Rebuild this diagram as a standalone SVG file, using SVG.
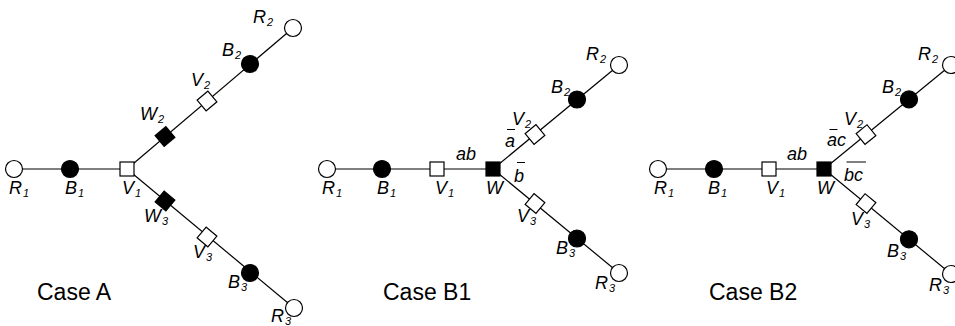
<svg xmlns="http://www.w3.org/2000/svg" xmlns:xlink="http://www.w3.org/1999/xlink" width="955" height="326" viewBox="0 0 955 326">
  <style>
    .edge { stroke: #000; stroke-width: 1.2; fill: none; }
    .open { fill: #fff; stroke: #000; stroke-width: 1.2; }
    .solid { fill: #000; stroke: #000; stroke-width: 1.2; }
    text { font-family: "Liberation Sans", Arial, Helvetica, sans-serif; fill: #000; }
    .lbl { font-size: 18px; font-style: italic; }
    .s { font-size: 11px; }
    .case { font-size: 23px; }
    .bar { stroke: #000; stroke-width: 1; }
  </style>
  <defs>
    <circle id="dot" r="8.5"/>
    <rect id="box" x="-7" y="-7" width="14" height="14"/>
  </defs>
  <rect width="955" height="326" fill="#fff"/>

  <!-- connectors -->
  <g id="connectors">
    <!-- case A -->
    <line class="edge" x1="14" y1="169" x2="127" y2="169"/>
    <line class="edge" x1="127" y1="169" x2="293" y2="28"/>
    <line class="edge" x1="127" y1="169" x2="294" y2="308"/>
    <!-- case B1 -->
    <line class="edge" x1="327" y1="169" x2="493" y2="169"/>
    <line class="edge" x1="493" y1="169" x2="619" y2="65"/>
    <line class="edge" x1="493" y1="169" x2="619" y2="273"/>
    <!-- case B2 -->
    <line class="edge" x1="658" y1="169" x2="824" y2="169"/>
    <line class="edge" x1="824" y1="169" x2="951" y2="65"/>
    <line class="edge" x1="824" y1="169" x2="951" y2="274"/>
  </g>

  <!-- Case A -->
  <g id="a-R1"><use xlink:href="#dot" class="open" x="14" y="169"/><text class="lbl" x="9" y="194">R<tspan class="s" dx="1" dy="3">1</tspan></text></g>
  <g id="a-B1"><use xlink:href="#dot" class="solid" x="70" y="169"/><text class="lbl" x="65" y="194">B<tspan class="s" dx="1" dy="3">1</tspan></text></g>
  <g id="a-V1"><use xlink:href="#box" class="open" x="127" y="169"/><text class="lbl" x="122" y="194">V<tspan class="s" dx="1" dy="3">1</tspan></text></g>
  <g id="a-W2"><use xlink:href="#box" class="solid" transform="translate(165,136.5) rotate(-40)"/><text class="lbl" x="140" y="120">W<tspan class="s" dx="1" dy="3">2</tspan></text></g>
  <g id="a-V2"><use xlink:href="#box" class="open" transform="translate(207,101) rotate(-40)"/><text class="lbl" x="191" y="86">V<tspan class="s" dx="1" dy="3">2</tspan></text></g>
  <g id="a-B2"><use xlink:href="#dot" class="solid" x="250" y="64"/><text class="lbl" x="222" y="56">B<tspan class="s" dx="1" dy="3">2</tspan></text></g>
  <g id="a-R2"><use xlink:href="#dot" class="open" x="293" y="28"/><text class="lbl" x="253" y="23">R<tspan class="s" dx="1" dy="3">2</tspan></text></g>
  <g id="a-W3"><use xlink:href="#box" class="solid" transform="translate(165,201) rotate(40)"/><text class="lbl" x="144" y="222">W<tspan class="s" dx="1" dy="3">3</tspan></text></g>
  <g id="a-V3"><use xlink:href="#box" class="open" transform="translate(207,237) rotate(40)"/><text class="lbl" x="193" y="258">V<tspan class="s" dx="1" dy="3">3</tspan></text></g>
  <g id="a-B3"><use xlink:href="#dot" class="solid" x="250" y="273"/><text class="lbl" x="228" y="288">B<tspan class="s" dx="1" dy="3">3</tspan></text></g>
  <g id="a-R3"><use xlink:href="#dot" class="open" x="294" y="308"/><text class="lbl" x="271" y="322">R<tspan class="s" dx="1" dy="3">3</tspan></text></g>
  <text class="case" x="37" y="300">Case A</text>

  <!-- Case B1 -->
  <g id="b1-R1"><use xlink:href="#dot" class="open" x="327" y="169"/><text class="lbl" x="322" y="194">R<tspan class="s" dx="1" dy="3">1</tspan></text></g>
  <g id="b1-B1"><use xlink:href="#dot" class="solid" x="382" y="169"/><text class="lbl" x="377" y="194">B<tspan class="s" dx="1" dy="3">1</tspan></text></g>
  <g id="b1-V1"><use xlink:href="#box" class="open" x="437" y="169"/><text class="lbl" x="435" y="194">V<tspan class="s" dx="1" dy="3">1</tspan></text></g>
  <g id="b1-W"><use xlink:href="#box" class="solid" x="493" y="169"/><text class="lbl" x="486" y="194">W</text></g>
  <g id="b1-V2"><use xlink:href="#box" class="open" transform="translate(535,134.5) rotate(-39.5)"/><text class="lbl" x="512" y="125">V<tspan class="s" dx="1" dy="3">2</tspan></text></g>
  <g id="b1-B2"><use xlink:href="#dot" class="solid" x="577" y="99.5"/><text class="lbl" x="551" y="93">B<tspan class="s" dx="1" dy="3">2</tspan></text></g>
  <g id="b1-R2"><use xlink:href="#dot" class="open" x="619" y="65"/><text class="lbl" x="586" y="60">R<tspan class="s" dx="1" dy="3">2</tspan></text></g>
  <g id="b1-V3"><use xlink:href="#box" class="open" transform="translate(535,203.5) rotate(39.5)"/><text class="lbl" x="517" y="222">V<tspan class="s" dx="1" dy="3">3</tspan></text></g>
  <g id="b1-B3"><use xlink:href="#dot" class="solid" x="577" y="238.5"/><text class="lbl" x="556" y="254">B<tspan class="s" dx="1" dy="3">3</tspan></text></g>
  <g id="b1-R3"><use xlink:href="#dot" class="open" x="619" y="273"/><text class="lbl" x="595" y="289">R<tspan class="s" dx="1" dy="3">3</tspan></text></g>
  <g id="b1-edge-labels">
    <text class="lbl" x="456" y="160">ab</text>
    <text class="lbl" x="505" y="147">a</text>
    <line class="bar" x1="507" y1="129.5" x2="515" y2="129.5"/>
    <text class="lbl" x="514" y="182">b</text>
    <line class="bar" x1="517" y1="162.5" x2="525" y2="162.5"/>
  </g>
  <text class="case" x="383" y="300">Case B1</text>

  <!-- Case B2 -->
  <g id="b2-R1"><use xlink:href="#dot" class="open" x="658" y="169"/><text class="lbl" x="654" y="194">R<tspan class="s" dx="1" dy="3">1</tspan></text></g>
  <g id="b2-B1"><use xlink:href="#dot" class="solid" x="714" y="169"/><text class="lbl" x="708" y="194">B<tspan class="s" dx="1" dy="3">1</tspan></text></g>
  <g id="b2-V1"><use xlink:href="#box" class="open" x="769" y="169"/><text class="lbl" x="766" y="194">V<tspan class="s" dx="1" dy="3">1</tspan></text></g>
  <g id="b2-W"><use xlink:href="#box" class="solid" x="824" y="169"/><text class="lbl" x="817" y="194">W</text></g>
  <g id="b2-V2"><use xlink:href="#box" class="open" transform="translate(866,134.6) rotate(-39.3)"/><text class="lbl" x="844" y="125">V<tspan class="s" dx="1" dy="3">2</tspan></text></g>
  <g id="b2-B2"><use xlink:href="#dot" class="solid" x="909" y="99.4"/><text class="lbl" x="882" y="93">B<tspan class="s" dx="1" dy="3">2</tspan></text></g>
  <g id="b2-R2"><use xlink:href="#dot" class="open" x="951" y="65"/><text class="lbl" x="918" y="60">R<tspan class="s" dx="1" dy="3">2</tspan></text></g>
  <g id="b2-V3"><use xlink:href="#box" class="open" transform="translate(866,203.6) rotate(39.6)"/><text class="lbl" x="851" y="225">V<tspan class="s" dx="1" dy="3">3</tspan></text></g>
  <g id="b2-B3"><use xlink:href="#dot" class="solid" x="909" y="239.3"/><text class="lbl" x="887" y="257">B<tspan class="s" dx="1" dy="3">3</tspan></text></g>
  <g id="b2-R3"><use xlink:href="#dot" class="open" x="951" y="274"/><text class="lbl" x="929" y="291">R<tspan class="s" dx="1" dy="3">3</tspan></text></g>
  <g id="b2-edge-labels">
    <text class="lbl" x="787" y="160">ab</text>
    <text class="lbl" x="827" y="146">ac</text>
    <line class="bar" x1="829.5" y1="129.5" x2="837.5" y2="129.5"/>
    <text class="lbl" x="844" y="181">bc</text>
    <line class="bar" x1="846.5" y1="162" x2="866" y2="162"/>
  </g>
  <text class="case" x="709" y="300">Case B2</text>
</svg>
